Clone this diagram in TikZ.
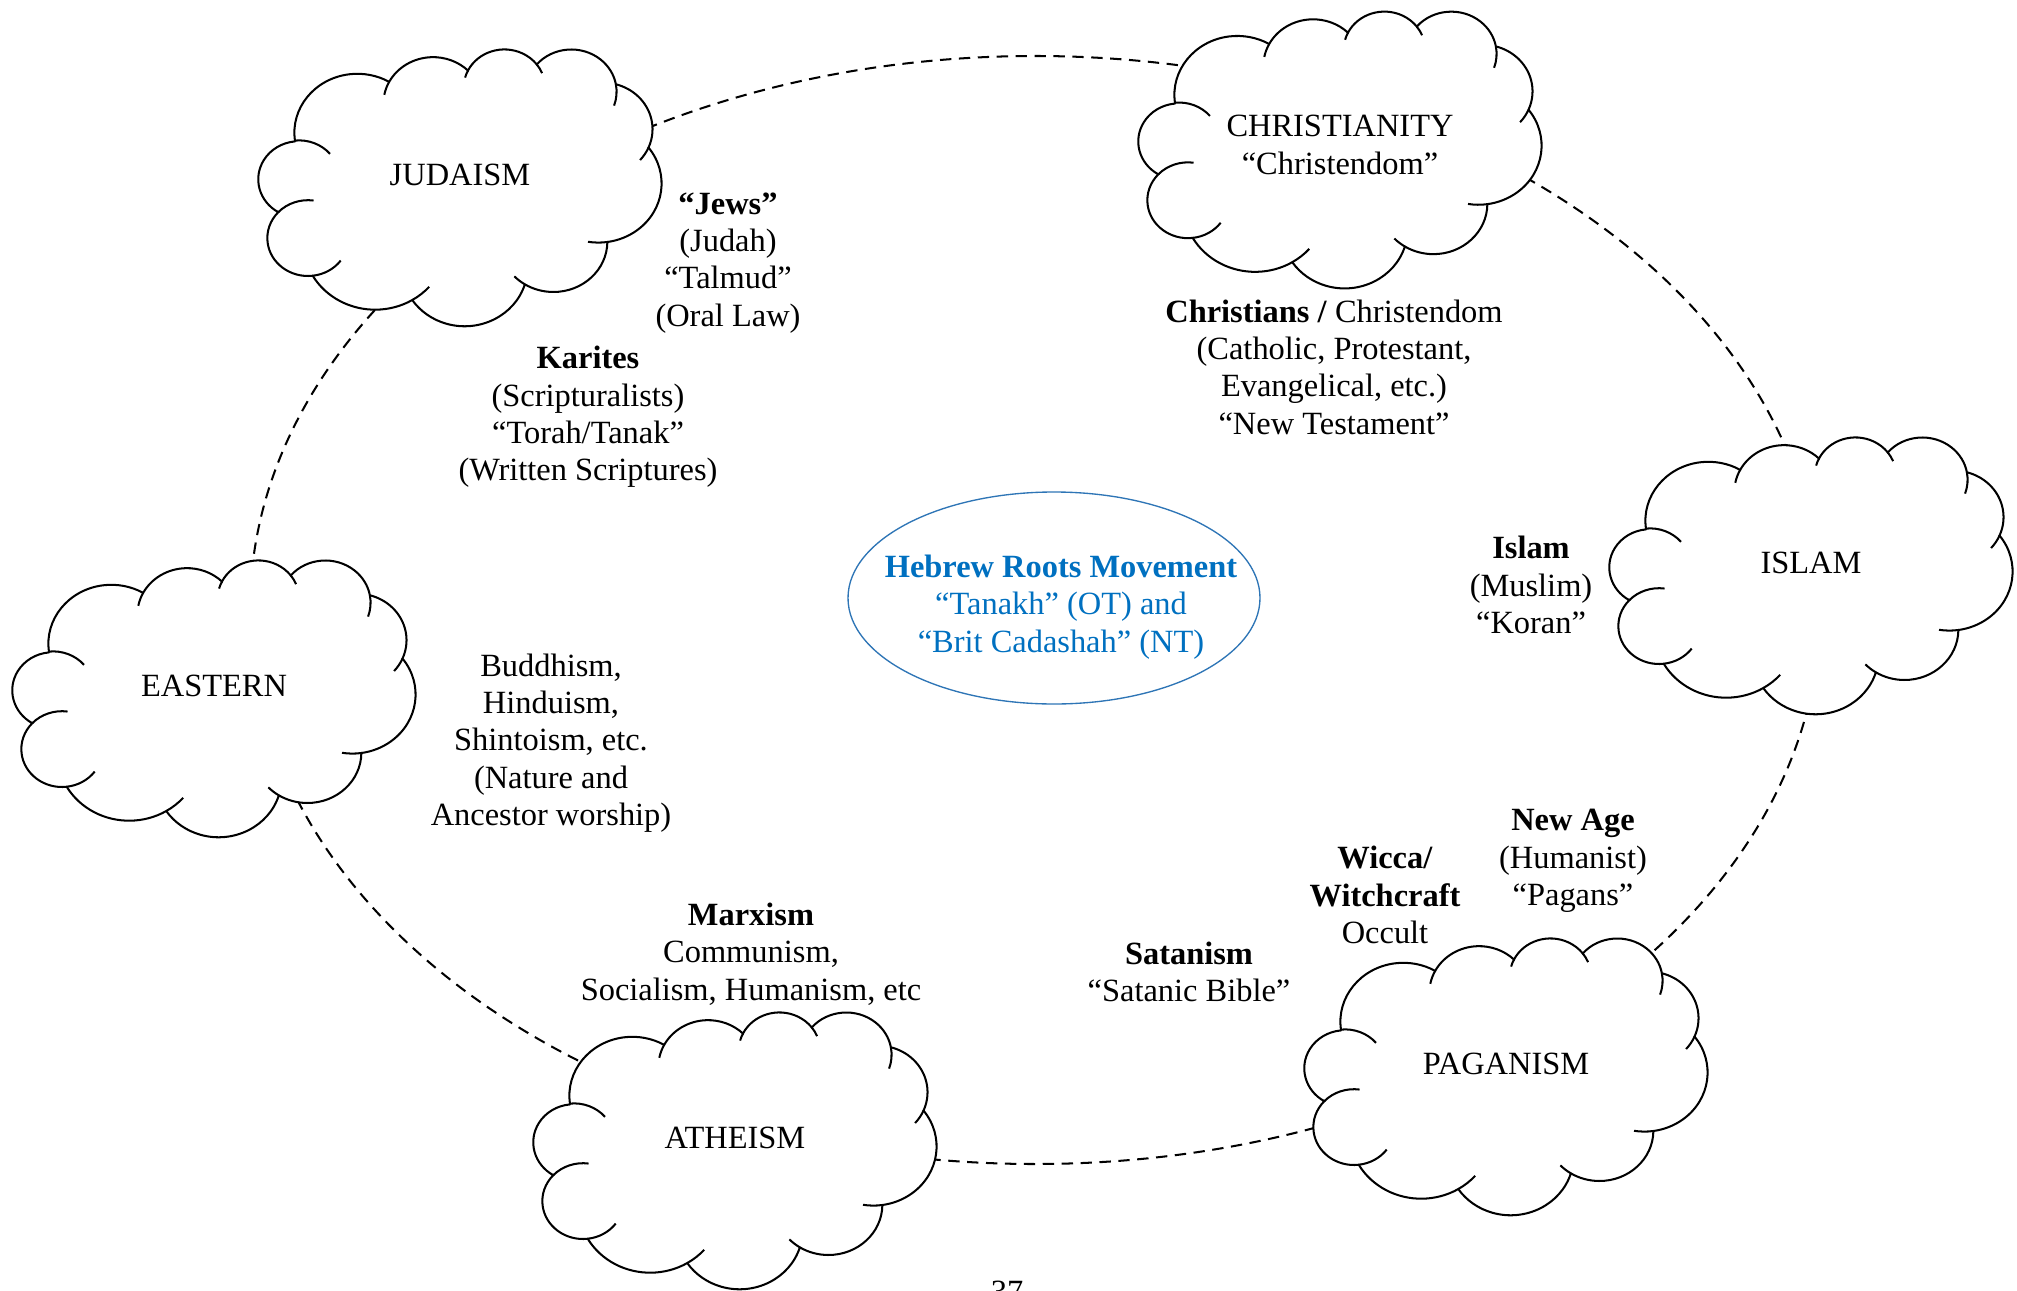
\documentclass[tikz,border=0pt]{standalone}
\usepackage{fontspec}
\setmainfont{Liberation Serif}
\usetikzlibrary{backgrounds}

\definecolor{hrmblue}{RGB}{0,112,192}
\definecolor{hrmline}{RGB}{46,117,182}

% one puff of a cloud: x radius, y radius, start angle, sweep (angles as seen, not parametric)
\newcommand\puff[4]{arc[x radius=#1, y radius=#2,
  start angle={atan2(#1*sin(#3),#2*cos(#3))},
  delta angle={mod(atan2(#1*sin((#3)+(#4)),#2*cos((#3)+(#4)))-atan2(#1*sin(#3),#2*cos(#3))+540,360)-180}]}

\tikzset{
  wordcloud/.pic={
    \begin{scope}[x=3.45pt,y=-2.37pt,shift={(-21.6,-21.6)},line width=0.75pt]
      \filldraw[fill=white] (3.9,14.37) coordinate (cp0)
        \puff{6.753}{9.19}{-190.4875}{123.7805} coordinate (cp1)
        \puff{5.333}{7.267}{-144.1024}{89.9452} coordinate (cp2)
        \puff{4.365}{5.945}{-145.8079}{99.723} coordinate (cp3)
        \puff{4.857}{6.595}{-130.9861}{117.2417} coordinate (cp4)
        \puff{5.333}{7.273}{-78.7089}{109.0269} coordinate (cp5)
        \puff{6.775}{9.22}{-46.2673}{130.269} coordinate (cp6)
        \puff{5.785}{7.867}{0.625}{114.0333} coordinate (cp7)
        \puff{6.752}{9.215}{22.4516}{115.1726} coordinate (cp8)
        \puff{7.72}{10.543}{66.2426}{75.711} coordinate (cp9)
        \puff{4.36}{5.918}{-274.9421}{146.7356} coordinate (cp10)
        \puff{4.345}{5.945}{-246.8285}{152.5303} -- cycle;
      % the small hooks where two puffs meet
      \draw (cp0) \puff{4.345}{5.945}{-94.2982}{45};
      \draw (cp1) \puff{5.333}{7.267}{-144.1024}{-21};
      \draw (cp2) \puff{4.365}{5.945}{-145.8079}{-14};
      \draw (cp3) \puff{4.365}{5.945}{-46.0849}{17};
      \draw (cp4) \puff{4.857}{6.595}{-13.7444}{39};
      \draw (cp5) \puff{5.333}{7.273}{30.318}{20};
      \draw (cp6) \puff{6.775}{9.22}{84.0017}{13};
      \draw (cp7) \puff{5.785}{7.867}{114.6583}{13};
      \draw (cp8) \puff{7.72}{10.543}{66.2426}{-16};
      \draw (cp9) \puff{4.36}{5.918}{-274.9421}{-40};
      \draw (cp10) \puff{4.36}{5.918}{-128.2065}{44};
    \end{scope}
  },
  cloudname/.style={align=center, inner sep=0pt, font=\fontsize{12}{13.8}\selectfont},
  note/.style={align=center, inner sep=0pt, font=\fontsize{12}{13.8}\selectfont},
  hrm/.style={align=center, inner sep=0pt, text=hrmblue, font=\fontsize{12}{13.8}\selectfont},
  hrmring/.style={draw=hrmline, line width=0.5pt},
  ringline/.style={line width=0.75pt, dash pattern=on 4.2pt off 2.8pt}
}

\begin{document}
\begin{tikzpicture}[x=0.37pt,y=-0.37pt]
\useasboundingbox (0,0) rectangle (2017,1290);

% the six clouds
\node[cloudname] (jud) at (460,175) {JUDAISM};
\node[cloudname] (chr) at (1340,145) {CHRISTIANITY\\``Christendom''};
\node[cloudname] (isl) at (1811,563) {ISLAM};
\node[cloudname] (eas) at (214,686) {EASTERN};
\node[cloudname] (ath) at (735,1138) {ATHEISM};
\node[cloudname] (pag) at (1506,1064) {PAGANISM};

% centre
\node[hrm] (hrm) at (1061,607) {\textbf{Hebrew Roots Movement}\\``Tanakh'' (OT) and\\``Brit Cadashah'' (NT)};
\draw[hrmring] ([shift={(-7,-9)}]hrm.center) ellipse [x radius=206, y radius=106];

% notes round the ring
\node[note] (jews) at (728,263) {\textbf{``Jews''}\\(Judah)\\``Talmud''\\(Oral Law)};
\node[note] (karites) at (588,417) {\textbf{Karites}\\(Scripturalists)\\``Torah/Tanak''\\(Written Scriptures)};
\node[note] (xians) at (1334,367) {\textbf{Christians /} Christendom\\(Catholic, Protestant,\\Evangelical, etc.)\\``New Testament''};
\node[note] (muslim) at (1531,585) {\textbf{Islam}\\(Muslim)\\``Koran''};
\node[note] (nature) at (551,743) {Buddhism,\\Hinduism,\\Shintoism, etc.\\(Nature and\\Ancestor worship)};
\node[note] (marx) at (751,954) {\textbf{Marxism}\\Communism,\\Socialism, Humanism, etc};
\node[note] (satan) at (1189,972) {\textbf{Satanism}\\``Satanic Bible''};
\node[note] (wicca) at (1385,895) {\textbf{Wicca/}\\\textbf{Witchcraft}\\Occult};
\node[note] (newage) at (1573,861) {\textbf{New Age}\\(Humanist)\\``Pagans''};
\node[note] (page) at (1007,1292) {37};

\begin{scope}[on background layer]
  \coordinate (ring) at (1035,610);
  \draw[ringline] (ring) ellipse [x radius=785, y radius=554];
  \foreach \c in {jud,isl,eas,ath,pag}
    \pic at ([yshift=-4.4pt]\c) {wordcloud};
  \pic at ([yshift=-1.5pt]chr) {wordcloud};
\end{scope}

\end{tikzpicture}
\end{document}
